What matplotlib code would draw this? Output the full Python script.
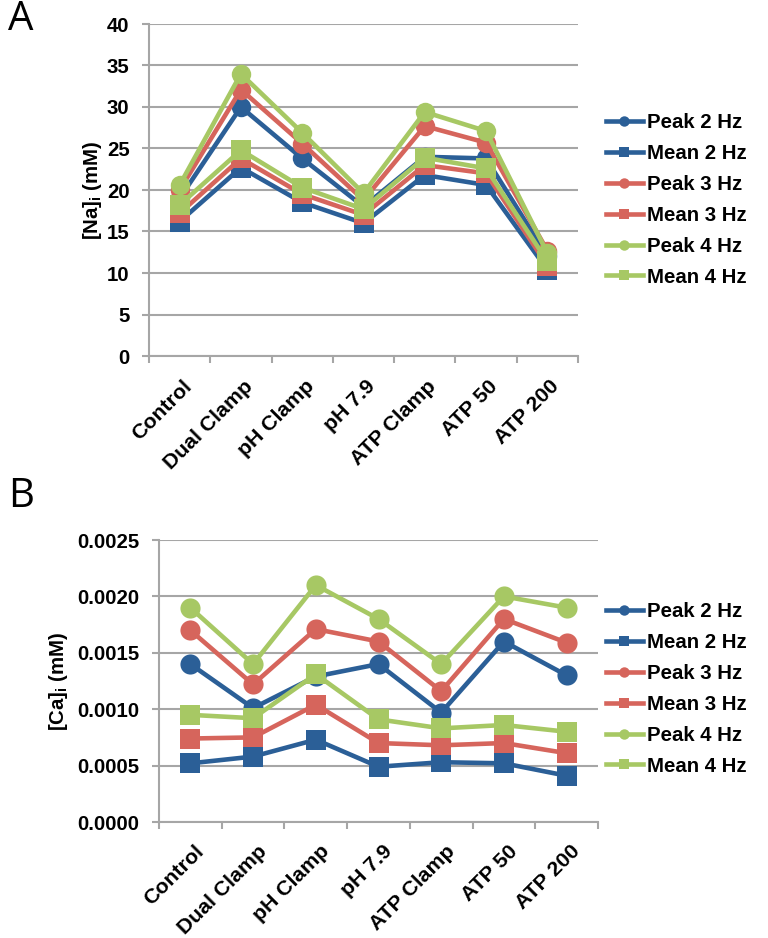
import matplotlib
matplotlib.use("Agg")
import matplotlib.pyplot as plt
from matplotlib.lines import Line2D
from matplotlib.ticker import FixedLocator, FormatStrFormatter
import matplotlib.transforms as mtransforms

plt.rcParams['font.family'] = ['Liberation Sans', 'DejaVu Sans']
plt.rcParams['mathtext.fontset'] = 'custom'
plt.rcParams['mathtext.rm'] = 'Liberation Sans'
plt.rcParams['mathtext.bf'] = 'Liberation Sans:bold'

categories = ["Control", "Dual Clamp", "pH Clamp", "pH 7.9", "ATP Clamp", "ATP 50", "ATP 200"]
series_names = ["Peak 2 Hz", "Mean 2 Hz", "Peak 3 Hz", "Mean 3 Hz", "Peak 4 Hz", "Mean 4 Hz"]

# Panel A: [Na]i (mM)
na_peak2 = [19.0, 30.0, 23.8, 18.0, 24.0, 23.8, 12.0]
na_mean2 = [16.2, 22.7, 18.5, 16.0, 21.8, 20.6, 10.4]
na_peak3 = [20.0, 32.1, 25.6, 18.8, 27.7, 25.7, 12.7]
na_mean3 = [17.2, 23.8, 19.5, 17.0, 23.0, 22.0, 10.9]
na_peak4 = [20.6, 34.0, 26.9, 19.6, 29.4, 27.1, 12.4]
na_mean4 = [18.2, 24.8, 20.3, 17.7, 23.9, 22.6, 11.4]

# Panel B: [Ca]i (mM)
ca_peak2 = [0.00140, 0.00101, 0.00129, 0.00140, 0.00097, 0.00160, 0.00130]
ca_mean2 = [0.00052, 0.00058, 0.00073, 0.00049, 0.00053, 0.00052, 0.00041]
ca_peak3 = [0.00170, 0.00122, 0.00171, 0.00160, 0.00116, 0.00180, 0.00159]
ca_mean3 = [0.00074, 0.00075, 0.00104, 0.00070, 0.00068, 0.00070, 0.00061]
ca_peak4 = [0.00190, 0.00140, 0.00210, 0.00180, 0.00140, 0.00200, 0.00190]
ca_mean4 = [0.00095, 0.00092, 0.00131, 0.00091, 0.00083, 0.00086, 0.00080]

colors = ['#2B5F97', '#2B5F97', '#D6655C', '#D6655C', '#A7C864', '#A7C864']
markers = ['o', 's', 'o', 's', 'o', 's']

W, H = 768, 938
fig = plt.figure(figsize=(W / 100, H / 100), dpi=100)

def ax_rect(l, r, t, b):
    return [l / W, 1 - b / H, (r - l) / W, (b - t) / H]

grid_col = '#A6A6A6'
FS = 14.7
XFS = 15.3

def style_axes(ax, ymax, ystep, fmt, xoff_pt, pad_pt):
    x = list(range(len(categories)))
    ax.set_xlim(-0.5, len(categories) - 0.5)
    ax.set_ylim(0, ymax)
    n = int(round(ymax / ystep))
    ax.yaxis.set_major_locator(FixedLocator([i * ystep for i in range(n + 1)]))
    ax.yaxis.set_major_formatter(FormatStrFormatter(fmt))
    ax.grid(axis='y', color=grid_col, lw=1.5, zorder=0)
    ax.set_axisbelow(True)
    for s in ['top', 'right']:
        ax.spines[s].set_visible(False)
    for s in ['left', 'bottom']:
        ax.spines[s].set_color(grid_col)
        ax.spines[s].set_linewidth(1.5)
    ax.set_xticks(x)
    ax.set_xticklabels(categories, rotation=45, ha='right', rotation_mode='anchor',
                       fontsize=XFS, fontweight='bold')
    ax.set_xticks([i - 0.5 for i in range(len(categories) + 1)], minor=True)
    ax.tick_params(axis='x', which='major', length=0, pad=pad_pt)
    ax.tick_params(axis='x', which='minor', length=5, width=1.5, color=grid_col)
    ax.tick_params(axis='y', length=5, width=1.5, color=grid_col, pad=9, labelsize=FS)
    for lab in ax.get_yticklabels():
        lab.set_fontweight('bold')
    off = mtransforms.ScaledTranslation(xoff_pt / 72, 0, fig.dpi_scale_trans)
    for lab in ax.get_xticklabels():
        lab.set_transform(lab.get_transform() + off)

def draw(ax, data, ms_c, ms_s):
    x = list(range(len(categories)))
    for vals, c, m in zip(data, colors, markers):
        ms = ms_c if m == 'o' else ms_s
        ax.plot(x, vals, color=c, lw=3.3, marker=m, markersize=ms,
                markerfacecolor=c, markeredgecolor=c, markeredgewidth=0, clip_on=False)

def legend(cy):
    handles = [Line2D([], [], color=c, lw=3.3, marker=m, markersize=7.5,
                      markeredgewidth=0) for c, m in zip(colors, markers)]
    leg = fig.legend(handles, series_names, loc='center left',
                     bbox_to_anchor=(606 / W, 1 - cy / H), frameon=False,
                     borderpad=0, borderaxespad=0, handlelength=1.8,
                     handletextpad=0.2, labelspacing=0.58,
                     prop={'family': 'Liberation Sans', 'weight': 'bold', 'size': FS})
    return leg

# Panel A
axA = fig.add_axes(ax_rect(149, 578, 24, 356))
draw(axA, [na_peak2, na_mean2, na_peak3, na_mean3, na_peak4, na_mean4], 14, 14)
style_axes(axA, 40, 5, '%d', 1.5, 15)
legend(200)
fig.text(93 / W, 1 - 190 / H, r'[Na]$_\mathbf{i}$ (mM)', rotation=90, ha='center', va='center',
         fontsize=FS, fontweight='bold')
fig.text(8 / W, 1 - 20 / H, 'A', fontsize=29, ha='left', va='center', family='Open Sans')

# Panel B
axB = fig.add_axes(ax_rect(159, 598, 540, 822))
draw(axB, [ca_peak2, ca_mean2, ca_peak3, ca_mean3, ca_peak4, ca_mean4], 14.5, 15)
style_axes(axB, 0.0025, 0.0005, '%.4f', 3, 14)
legend(689)
fig.text(59 / W, 1 - 681 / H, r'[Ca]$_\mathbf{i}$ (mM)', rotation=90, ha='center', va='center',
         fontsize=FS, fontweight='bold')
fig.text(8 / W, 1 - 497 / H, 'B', fontsize=29, ha='left', va='center', family='Open Sans')

fig.savefig('out.png', dpi=100)
